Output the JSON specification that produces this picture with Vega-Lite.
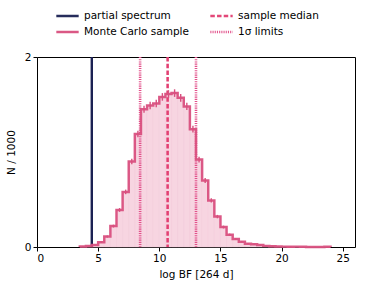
{
  "$schema": "https://vega.github.io/schema/vega-lite/v6.json",
  "width": 318,
  "height": 190,
  "autosize": {"type": "none"},
  "padding": {"left": 37, "top": 57, "right": 19, "bottom": 44},
  "background": "white",
  "config": {
    "font": "DejaVu Sans",
    "view": {"stroke": "black", "strokeWidth": 1},
    "axis": {
      "domain": false,
      "grid": false,
      "tickColor": "black",
      "tickSize": 4,
      "labelColor": "black",
      "labelFontSize": 10.5,
      "labelFont": "DejaVu Sans",
      "titleFont": "DejaVu Sans",
      "titleFontSize": 10.5,
      "titleFontWeight": "normal",
      "titleColor": "black",
      "labelPadding": 2
    },
    "legend": {
      "labelFont": "DejaVu Sans",
      "labelFontSize": 10.5,
      "labelColor": "black"
    }
  },
  "datasets": {
    "bins": [
      {"start": 3.5, "end": 4.0, "center": 3.75, "n": 0.005, "lo": 0.003, "hi": 0.007},
      {"start": 4.0, "end": 4.5, "center": 4.25, "n": 0.01, "lo": 0.007, "hi": 0.013},
      {"start": 4.5, "end": 5.0, "center": 4.75, "n": 0.02, "lo": 0.016, "hi": 0.024},
      {"start": 5.0, "end": 5.5, "center": 5.25, "n": 0.05, "lo": 0.043, "hi": 0.057},
      {"start": 5.5, "end": 6.0, "center": 5.75, "n": 0.11, "lo": 0.099, "hi": 0.121},
      {"start": 6.0, "end": 6.5, "center": 6.25, "n": 0.22, "lo": 0.205, "hi": 0.235},
      {"start": 6.5, "end": 7.0, "center": 6.75, "n": 0.39, "lo": 0.37, "hi": 0.41},
      {"start": 7.0, "end": 7.5, "center": 7.25, "n": 0.58, "lo": 0.556, "hi": 0.604},
      {"start": 7.5, "end": 8.0, "center": 7.75, "n": 0.90, "lo": 0.87, "hi": 0.93},
      {"start": 8.0, "end": 8.5, "center": 8.25, "n": 1.19, "lo": 1.155, "hi": 1.225},
      {"start": 8.5, "end": 9.0, "center": 8.75, "n": 1.45, "lo": 1.412, "hi": 1.488},
      {"start": 9.0, "end": 9.5, "center": 9.25, "n": 1.49, "lo": 1.451, "hi": 1.529},
      {"start": 9.5, "end": 10.0, "center": 9.75, "n": 1.51, "lo": 1.471, "hi": 1.549},
      {"start": 10.0, "end": 10.5, "center": 10.25, "n": 1.58, "lo": 1.54, "hi": 1.62},
      {"start": 10.5, "end": 11.0, "center": 10.75, "n": 1.61, "lo": 1.57, "hi": 1.65},
      {"start": 11.0, "end": 11.5, "center": 11.25, "n": 1.62, "lo": 1.58, "hi": 1.66},
      {"start": 11.5, "end": 12.0, "center": 11.75, "n": 1.57, "lo": 1.53, "hi": 1.61},
      {"start": 12.0, "end": 12.5, "center": 12.25, "n": 1.48, "lo": 1.442, "hi": 1.518},
      {"start": 12.5, "end": 13.0, "center": 12.75, "n": 1.24, "lo": 1.205, "hi": 1.275},
      {"start": 13.0, "end": 13.5, "center": 13.25, "n": 0.92, "lo": 0.89, "hi": 0.95},
      {"start": 13.5, "end": 14.0, "center": 13.75, "n": 0.70, "lo": 0.674, "hi": 0.726},
      {"start": 14.0, "end": 14.5, "center": 14.25, "n": 0.49, "lo": 0.468, "hi": 0.512},
      {"start": 14.5, "end": 15.0, "center": 14.75, "n": 0.32, "lo": 0.302, "hi": 0.338},
      {"start": 15.0, "end": 15.5, "center": 15.25, "n": 0.21, "lo": 0.195, "hi": 0.225},
      {"start": 15.5, "end": 16.0, "center": 15.75, "n": 0.13, "lo": 0.119, "hi": 0.141},
      {"start": 16.0, "end": 16.5, "center": 16.25, "n": 0.085, "lo": 0.076, "hi": 0.094},
      {"start": 16.5, "end": 17.0, "center": 16.75, "n": 0.056, "lo": 0.049, "hi": 0.063},
      {"start": 17.0, "end": 17.5, "center": 17.25, "n": 0.035, "lo": 0.029, "hi": 0.041},
      {"start": 17.5, "end": 18.0, "center": 17.75, "n": 0.03, "lo": 0.025, "hi": 0.035},
      {"start": 18.0, "end": 18.5, "center": 18.25, "n": 0.02, "lo": 0.016, "hi": 0.024},
      {"start": 18.5, "end": 19.0, "center": 18.75, "n": 0.012, "lo": 0.009, "hi": 0.015},
      {"start": 19.0, "end": 19.5, "center": 19.25, "n": 0.008, "lo": 0.005, "hi": 0.011},
      {"start": 19.5, "end": 20.0, "center": 19.75, "n": 0.006, "lo": 0.004, "hi": 0.008},
      {"start": 20.0, "end": 20.5, "center": 20.25, "n": 0.004, "lo": 0.002, "hi": 0.006},
      {"start": 20.5, "end": 21.0, "center": 20.75, "n": 0.003, "lo": 0.001, "hi": 0.005},
      {"start": 21.0, "end": 21.5, "center": 21.25, "n": 0.004, "lo": 0.002, "hi": 0.006},
      {"start": 21.5, "end": 22.0, "center": 21.75, "n": 0.002, "lo": 0.001, "hi": 0.003},
      {"start": 22.0, "end": 22.5, "center": 22.25, "n": 0.001, "lo": 0.0, "hi": 0.002},
      {"start": 22.5, "end": 23.0, "center": 22.75, "n": 0.001, "lo": 0.0, "hi": 0.002},
      {"start": 23.0, "end": 23.5, "center": 23.25, "n": 0.001, "lo": 0.0, "hi": 0.002},
      {"start": 23.5, "end": 24.0, "center": 23.75, "n": 0.003, "lo": 0.001, "hi": 0.005}
    ],
    "outline": [
      {"i": 0, "x": 3.5, "n": 0, "series": "Monte Carlo sample"},
      {"i": 1, "x": 3.5, "n": 0.005, "series": "Monte Carlo sample"},
      {"i": 2, "x": 4.0, "n": 0.01, "series": "Monte Carlo sample"},
      {"i": 3, "x": 4.5, "n": 0.02, "series": "Monte Carlo sample"},
      {"i": 4, "x": 5.0, "n": 0.05, "series": "Monte Carlo sample"},
      {"i": 5, "x": 5.5, "n": 0.11, "series": "Monte Carlo sample"},
      {"i": 6, "x": 6.0, "n": 0.22, "series": "Monte Carlo sample"},
      {"i": 7, "x": 6.5, "n": 0.39, "series": "Monte Carlo sample"},
      {"i": 8, "x": 7.0, "n": 0.58, "series": "Monte Carlo sample"},
      {"i": 9, "x": 7.5, "n": 0.90, "series": "Monte Carlo sample"},
      {"i": 10, "x": 8.0, "n": 1.19, "series": "Monte Carlo sample"},
      {"i": 11, "x": 8.5, "n": 1.45, "series": "Monte Carlo sample"},
      {"i": 12, "x": 9.0, "n": 1.49, "series": "Monte Carlo sample"},
      {"i": 13, "x": 9.5, "n": 1.51, "series": "Monte Carlo sample"},
      {"i": 14, "x": 10.0, "n": 1.58, "series": "Monte Carlo sample"},
      {"i": 15, "x": 10.5, "n": 1.61, "series": "Monte Carlo sample"},
      {"i": 16, "x": 11.0, "n": 1.62, "series": "Monte Carlo sample"},
      {"i": 17, "x": 11.5, "n": 1.57, "series": "Monte Carlo sample"},
      {"i": 18, "x": 12.0, "n": 1.48, "series": "Monte Carlo sample"},
      {"i": 19, "x": 12.5, "n": 1.24, "series": "Monte Carlo sample"},
      {"i": 20, "x": 13.0, "n": 0.92, "series": "Monte Carlo sample"},
      {"i": 21, "x": 13.5, "n": 0.70, "series": "Monte Carlo sample"},
      {"i": 22, "x": 14.0, "n": 0.49, "series": "Monte Carlo sample"},
      {"i": 23, "x": 14.5, "n": 0.32, "series": "Monte Carlo sample"},
      {"i": 24, "x": 15.0, "n": 0.21, "series": "Monte Carlo sample"},
      {"i": 25, "x": 15.5, "n": 0.13, "series": "Monte Carlo sample"},
      {"i": 26, "x": 16.0, "n": 0.085, "series": "Monte Carlo sample"},
      {"i": 27, "x": 16.5, "n": 0.056, "series": "Monte Carlo sample"},
      {"i": 28, "x": 17.0, "n": 0.035, "series": "Monte Carlo sample"},
      {"i": 29, "x": 17.5, "n": 0.03, "series": "Monte Carlo sample"},
      {"i": 30, "x": 18.0, "n": 0.02, "series": "Monte Carlo sample"},
      {"i": 31, "x": 18.5, "n": 0.012, "series": "Monte Carlo sample"},
      {"i": 32, "x": 19.0, "n": 0.008, "series": "Monte Carlo sample"},
      {"i": 33, "x": 19.5, "n": 0.006, "series": "Monte Carlo sample"},
      {"i": 34, "x": 20.0, "n": 0.004, "series": "Monte Carlo sample"},
      {"i": 35, "x": 20.5, "n": 0.003, "series": "Monte Carlo sample"},
      {"i": 36, "x": 21.0, "n": 0.004, "series": "Monte Carlo sample"},
      {"i": 37, "x": 21.5, "n": 0.002, "series": "Monte Carlo sample"},
      {"i": 38, "x": 22.0, "n": 0.001, "series": "Monte Carlo sample"},
      {"i": 39, "x": 22.5, "n": 0.001, "series": "Monte Carlo sample"},
      {"i": 40, "x": 23.0, "n": 0.001, "series": "Monte Carlo sample"},
      {"i": 41, "x": 23.5, "n": 0.003, "series": "Monte Carlo sample"},
      {"i": 42, "x": 24.0, "n": 0, "series": "Monte Carlo sample"}
    ],
    "lines": [
      {"series": "partial spectrum", "x": 4.48},
      {"series": "sample median", "x": 10.68},
      {"series": "1σ limits", "x": 8.43},
      {"series": "1σ limits", "x": 13.0}
    ]
  },
  "layer": [
    {
      "data": {"name": "bins"},
      "mark": {"type": "rect", "color": "#f7d5e1", "stroke": "#f3c9d8", "strokeWidth": 0.5},
      "encoding": {
        "x": {"field": "start", "type": "quantitative", "scale": {"domain": [0, 25]},
              "axis": {"values": [0, 5, 10, 15, 20, 25], "title": "log BF [264 d]", "titlePadding": 6}},
        "x2": {"field": "end"},
        "y": {"field": "n", "type": "quantitative", "scale": {"domain": [0, 2]},
              "axis": {"values": [0, 1, 2], "format": "d", "title": "N / 1000", "titlePadding": 8}},
        "y2": {"datum": 0}
      }
    },
    {
      "data": {"name": "lines"},
      "mark": {"type": "rule"},
      "encoding": {
        "x": {"field": "x", "type": "quantitative"},
        "color": {"field": "series", "type": "nominal",
          "scale": {"domain": ["partial spectrum", "Monte Carlo sample", "sample median", "1σ limits"],
                    "range": ["#1b2153", "#d9507f", "#e23f72", "#e2508a"]},
          "legend": {"title": null, "orient": "none", "legendX": 18, "legendY": -49, "columns": 2,
                     "symbolType": "stroke", "symbolSize": 500, "clipHeight": 16,
                     "columnPadding": 20, "rowPadding": 0}},
        "strokeDash": {"field": "series", "type": "nominal",
          "scale": {"domain": ["partial spectrum", "Monte Carlo sample", "sample median", "1σ limits"],
                    "range": [[1, 0], [1, 0], [4.5, 2.2], [1.1, 1.1]]}},
        "strokeWidth": {"field": "series", "type": "nominal",
          "scale": {"domain": ["partial spectrum", "Monte Carlo sample", "sample median", "1σ limits"],
                    "range": [2.4, 2.6, 1.4, 1.0]}}
      }
    },
    {
      "data": {"name": "outline"},
      "mark": {"type": "line", "interpolate": "step-after", "opacity": 0.95},
      "encoding": {
        "x": {"field": "x", "type": "quantitative"},
        "y": {"field": "n", "type": "quantitative"},
        "order": {"field": "i", "type": "quantitative"},
        "color": {"field": "series", "type": "nominal"},
        "strokeDash": {"field": "series", "type": "nominal"},
        "strokeWidth": {"field": "series", "type": "nominal"}
      }
    },
    {
      "data": {"name": "bins"},
      "mark": {"type": "rule", "color": "#d9507f", "strokeWidth": 1.4},
      "encoding": {
        "x": {"field": "center", "type": "quantitative"},
        "y": {"field": "lo", "type": "quantitative"},
        "y2": {"field": "hi"}
      }
    }
  ]
}
